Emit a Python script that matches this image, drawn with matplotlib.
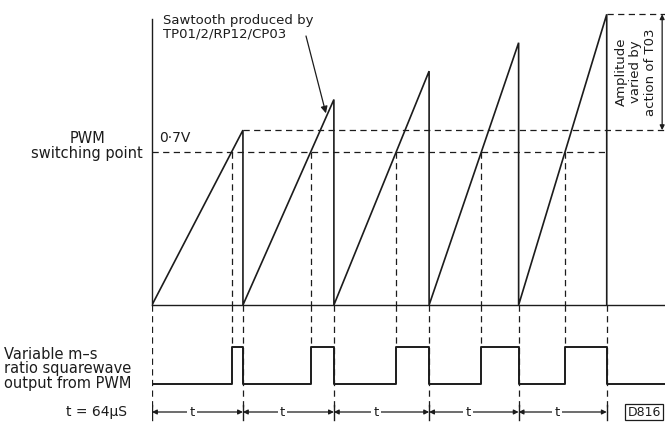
import numpy as np
import matplotlib.pyplot as plt

# sawtooth: ramp start/end (microseconds) and peak voltage of each ramp
ramp_start = [0, 64, 128, 195, 258]
ramp_end = [64, 128, 195, 258, 320]
ramp_peak = [0.80, 0.94, 1.07, 1.20, 1.33]
switch_v = 0.7
t_period = 64
x_max = 361

# squarewave levels
sq_low, sq_high = 0, 1

ink = '#1c1c1c'
plt.rcParams['font.family'] = 'DejaVu Sans'
plt.rcParams['font.size'] = 9.5

W, H = 665, 422
fig = plt.figure(figsize=(W / 100, H / 100), dpi=100)
fig.patch.set_facecolor('white')


def fpx(x, y):
    return x / W, 1 - y / H


ax1 = fig.add_axes([152 / W, 117 / H, 513 / W, 305 / H])
ax2 = fig.add_axes([152 / W, 0, 513 / W, 117 / H], sharex=ax1)
ax1.set_xlim(0, x_max)
ax1.set_ylim(0, 305 / 153 * switch_v)
ax2.set_ylim(-38 / 37, 79 / 37)
for ax in (ax1, ax2):
    ax.set_xticks([])
    ax.set_yticks([])
    ax.patch.set_alpha(0)
    for s in ax.spines.values():
        s.set_visible(False)
ax1.spines['left'].set_visible(True)
ax1.spines['left'].set_bounds(0, 1.31)
ax1.spines['bottom'].set_visible(True)
for s in ('left', 'bottom'):
    ax1.spines[s].set_color(ink)
    ax1.spines[s].set_linewidth(1.0)

dash = (0, (5, 3.5))

# sawtooth
xs, ys = [], []
for a, b, p in zip(ramp_start, ramp_end, ramp_peak):
    xs += [a, b, b]
    ys += [0, p, 0]
ax1.plot(xs, ys, color=ink, lw=1.2, solid_joinstyle='miter')

# crossing points of the ramps with the switching level
cross = [a + (b - a) * switch_v / p for a, b, p in zip(ramp_start, ramp_end, ramp_peak)]

# squarewave
sx, sy = [0], [sq_low]
for c, b in zip(cross, ramp_end):
    sx += [c, c, b, b]
    sy += [sq_low, sq_high, sq_high, sq_low]
sx.append(x_max)
sy.append(sq_low)
ax2.plot(sx, sy, color=ink, lw=1.4)

# horizontal dashed guides
ax1.plot([0, ramp_end[-1]], [switch_v, switch_v], color=ink, lw=0.9, ls=dash)
ax1.plot([ramp_end[0], x_max], [ramp_peak[0], ramp_peak[0]], color=ink, lw=0.9, ls=dash)
ax1.plot([ramp_end[-1], x_max], [ramp_peak[-1], ramp_peak[-1]], color=ink, lw=0.9, ls=dash)

# vertical dashed guides
top2 = ax2.get_ylim()[1]
row_y = -28 / 37
for b in [0] + ramp_end:
    ax2.plot([b, b], [top2, row_y], color=ink, lw=0.9, ls=dash)
    ax2.plot([b, b], [row_y + 0.2, row_y - 0.22], color=ink, lw=1.0)
for c in cross:
    ax1.plot([c, c], [switch_v, 0], color=ink, lw=0.9, ls=dash)
    ax2.plot([c, c], [top2, sq_high], color=ink, lw=0.9, ls=dash)

# period arrows
bounds = [0] + ramp_end
for a, b in zip(bounds[:-1], bounds[1:]):
    ax2.annotate('', xy=(a, row_y), xytext=(b, row_y),
                 arrowprops=dict(arrowstyle='<|-|>', color=ink, lw=0.9,
                                 mutation_scale=7, shrinkA=0, shrinkB=0))
    ax2.text((a + b) / 2 - 4, row_y, 't', ha='center', va='center', color=ink,
             bbox=dict(fc='white', ec='none', pad=1.5))

# amplitude arrow on the right
ax1.annotate('', xy=(359, ramp_peak[0]), xytext=(359, ramp_peak[-1]),
             arrowprops=dict(arrowstyle='<|-|>', color=ink, lw=0.9,
                             mutation_scale=7, shrinkA=0, shrinkB=0))
fig.text(*fpx(636, 72), 'Amplitude\nvaried by\naction of T03', rotation=90,
         ha='center', va='center', multialignment='center', color=ink, linespacing=1.2)

# sawtooth label with arrow
fig.text(*fpx(163, 14), 'Sawtooth produced by\nTP01/2/RP12/CP03', ha='left', va='top',
         color=ink, linespacing=1.05)
k = 1
tip_f = 0.92
tip_x = ramp_start[k] + (ramp_end[k] - ramp_start[k]) * tip_f
tip_y = ramp_peak[k] * tip_f
ax1.annotate('', xy=(tip_x, tip_y), xytext=fpx(306, 36), textcoords='figure fraction',
             arrowprops=dict(arrowstyle='-|>', color=ink, lw=0.9, mutation_scale=10,
                             shrinkA=0, shrinkB=2))

ax1.text(5, switch_v + 0.03, '0·7V', ha='left', va='bottom', color=ink, fontsize=10)
fig.text(*fpx(143, 146), 'PWM\nswitching point', ha='right', va='center',
         multialignment='center', color=ink, linespacing=1.05, fontsize=10.5)
fig.text(*fpx(4, 369), 'Variable m–s\nratio squarewave\noutput from PWM', ha='left',
         va='center', color=ink, linespacing=0.95, fontsize=10.5)
fig.text(*fpx(97, 412), 't = 64μS', ha='center', va='center', color=ink, fontsize=10)
fig.text(*fpx(644, 412), 'D816', ha='center', va='center', color=ink, fontsize=9,
         bbox=dict(boxstyle='square,pad=0.15', fc='white', ec=ink, lw=0.9))

fig.savefig('out.png', dpi=100, facecolor='white')
